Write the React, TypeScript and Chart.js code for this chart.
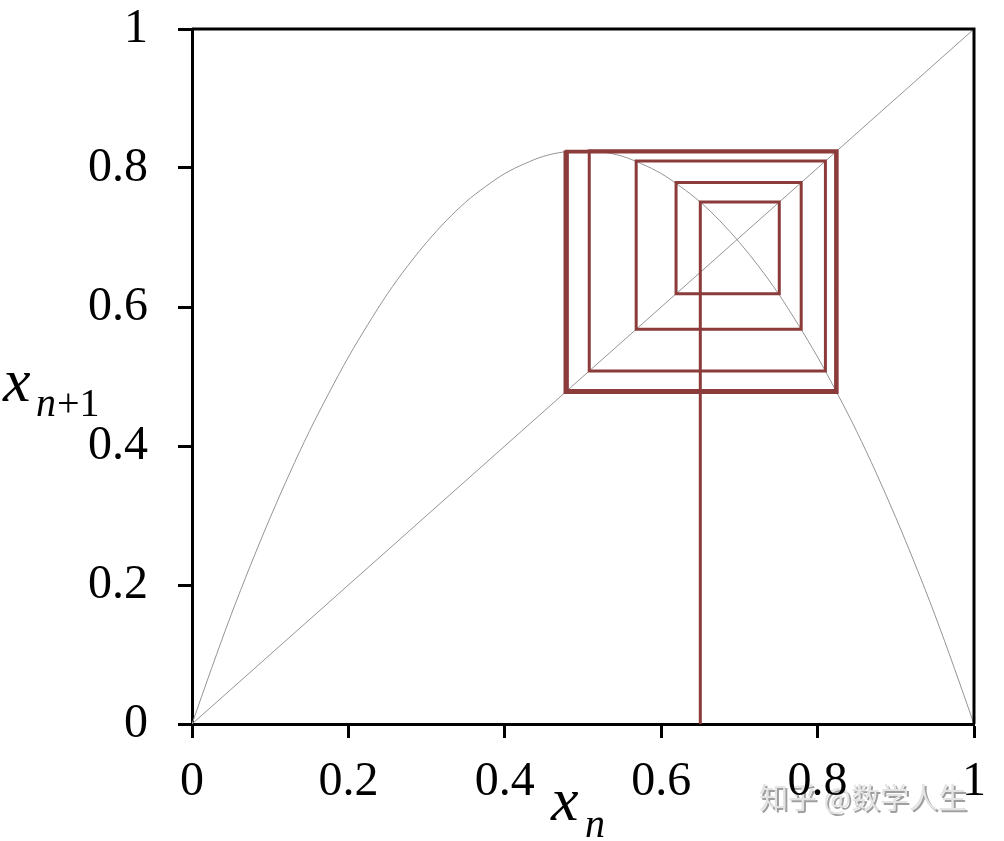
import React, { useEffect, useRef } from 'react';
import { Chart, registerables } from 'chart.js';

Chart.register(...registerables);

// Logistic-map curve (x_n -> x_{n+1})
const curveX = [0, 0.025, 0.05, 0.075, 0.1, 0.125, 0.15, 0.175, 0.2, 0.225, 0.25, 0.275, 0.3, 0.325, 0.35, 0.375, 0.4, 0.425, 0.45, 0.475, 0.5, 0.525, 0.55, 0.575, 0.6, 0.625, 0.65, 0.675, 0.7, 0.725, 0.75, 0.775, 0.8, 0.825, 0.85, 0.875, 0.9, 0.925, 0.95, 0.975, 1];
const curveY = [0, 0.080, 0.157, 0.229, 0.297, 0.361, 0.421, 0.476, 0.528, 0.575, 0.619, 0.658, 0.693, 0.724, 0.751, 0.773, 0.792, 0.806, 0.817, 0.823, 0.825, 0.823, 0.817, 0.806, 0.792, 0.773, 0.751, 0.724, 0.693, 0.658, 0.619, 0.575, 0.528, 0.476, 0.421, 0.361, 0.297, 0.229, 0.157, 0.080, 0];

// Diagonal x_{n+1} = x_n
const diagonalX = [0, 1];
const diagonalY = [0, 1];

// Orbit of the cobweb
const orbit = [0.65, 0.751, 0.619, 0.779, 0.568, 0.810, 0.508, 0.825, 0.477, 0.823, 0.480, 0.824, 0.479, 0.824, 0.479];

const tickValues = [0, 0.2, 0.4, 0.6, 0.8, 1];
const tickLabels = ['0', '0.2', '0.4', '0.6', '0.8', '1'];

const SERIF = '"Liberation Serif", "Times New Roman", serif';

function labelFor(v: number): string {
  const i = tickValues.findIndex((t) => Math.abs(t - v) < 1e-6);
  return i >= 0 ? tickLabels[i] : '';
}

const decorPlugin = {
  id: 'decor',
  beforeDraw(chart: any) {
    const ctx = chart.ctx;
    ctx.save();
    ctx.font = '29px "Noto Sans CJK SC"';
    ctx.textBaseline = 'middle';
    ctx.textAlign = 'left';
    ctx.fillStyle = '#9f9f9f';
    ctx.fillText('知乎 @数学人生', 761, 800);
    ctx.fillStyle = '#e4e4e4';
    ctx.fillText('知乎 @数学人生', 759, 798);
    ctx.restore();
  },
  afterDraw(chart: any) {
    const { ctx, chartArea } = chart;
    ctx.save();
    ctx.strokeStyle = '#000';
    ctx.lineWidth = 3;
    ctx.beginPath();
    ctx.moveTo(chartArea.left, chartArea.top);
    ctx.lineTo(chartArea.right, chartArea.top);
    ctx.lineTo(chartArea.right, chartArea.bottom);
    ctx.stroke();

    ctx.fillStyle = '#000';
    ctx.textBaseline = 'alphabetic';
    ctx.textAlign = 'left';
    // y title: x_{n+1}
    ctx.font = 'italic 62px ' + SERIF;
    ctx.fillText('x', 3, 401);
    ctx.font = 'italic 40px ' + SERIF;
    ctx.fillText('n', 36, 416);
    ctx.font = '40px ' + SERIF;
    ctx.fillText('+1', 57, 416);
    // x title: x_n
    ctx.font = 'italic 62px ' + SERIF;
    ctx.fillText('x', 551, 820);
    ctx.font = 'italic 40px ' + SERIF;
    ctx.fillText('n', 585, 837);
    ctx.restore();
  },
};

export default function App() {
  const canvasRef = useRef<HTMLCanvasElement | null>(null);

  useEffect(() => {
    const canvas = canvasRef.current;
    if (!canvas) return;

    const curvePts = curveX.map((x, i) => ({ x, y: curveY[i] }));
    const diagPts = diagonalX.map((x, i) => ({ x, y: diagonalY[i] }));
    const cobweb: { x: number; y: number }[] = [{ x: orbit[0], y: 0 }];
    for (let i = 0; i < orbit.length - 1; i++) {
      cobweb.push({ x: orbit[i], y: orbit[i + 1] });
      cobweb.push({ x: orbit[i + 1], y: orbit[i + 1] });
    }

    const tickFont = { family: SERIF, size: 48 };

    const chart = new Chart(canvas, {
      type: 'scatter',
      data: {
        datasets: [
          {
            data: cobweb,
            showLine: true,
            borderColor: '#8c3b3b',
            borderWidth: 3,
            pointRadius: 0,
            tension: 0,
            borderJoinStyle: 'miter',
          } as any,
          {
            data: curvePts,
            showLine: true,
            borderColor: '#949494',
            borderWidth: 1,
            pointRadius: 0,
            cubicInterpolationMode: 'monotone',
          } as any,
          {
            data: diagPts,
            showLine: true,
            borderColor: '#949494',
            borderWidth: 1,
            pointRadius: 0,
          } as any,
        ],
      },
      options: {
        animation: false,
        responsive: false,
        devicePixelRatio: 1,
        layout: { padding: { left: 0, top: 29, right: 30, bottom: 0 } },
        plugins: {
          legend: { display: false },
          tooltip: { enabled: false },
          title: { display: false },
        },
        scales: {
          x: {
            type: 'linear',
            min: 0,
            max: 1,
            afterFit: (s: any) => {
              s.height = 117;
              s.paddingLeft = 0;
              s.paddingRight = 0;
            },
            afterBuildTicks: (s: any) => {
              s.ticks = tickValues.map((v) => ({ value: v }));
            },
            ticks: {
              callback: (v: any) => labelFor(Number(v)),
              font: tickFont,
              color: '#000',
              padding: 16,
              maxRotation: 0,
              autoSkip: false,
            },
            grid: {
              drawOnChartArea: false,
              drawTicks: true,
              tickLength: 14,
              tickWidth: 3,
              tickColor: '#000',
            },
            border: { display: true, color: '#000', width: 3 },
          },
          y: {
            type: 'linear',
            min: 0,
            max: 1,
            afterFit: (s: any) => {
              s.width = 192;
              s.paddingTop = 0;
              s.paddingBottom = 0;
            },
            afterBuildTicks: (s: any) => {
              s.ticks = tickValues.map((v) => ({ value: v }));
            },
            ticks: {
              callback: (v: any) => labelFor(Number(v)),
              font: tickFont,
              color: '#000',
              padding: 30,
              autoSkip: false,
            },
            grid: {
              drawOnChartArea: false,
              drawTicks: true,
              tickLength: 14,
              tickWidth: 3,
              tickColor: '#000',
            },
            border: { display: true, color: '#000', width: 3 },
          },
        },
      },
      plugins: [decorPlugin],
    });

    return () => {
      chart.destroy();
    };
  }, []);

  return (
    <div style={{ position: 'absolute', left: 0, top: 0, width: 1004, height: 841, background: '#fff' }}>
      <canvas ref={canvasRef} width={1004} height={841} style={{ display: 'block', width: 1004, height: 841 }} />
    </div>
  );
}
